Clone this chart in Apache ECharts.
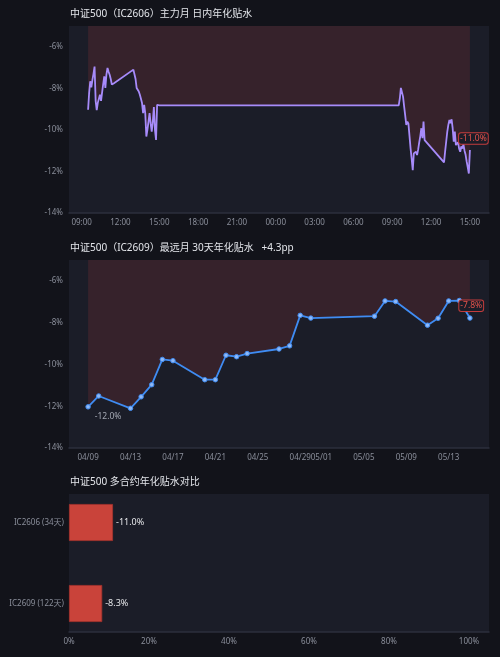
<!DOCTYPE html>
<html><head><meta charset="utf-8">
<script src="https://cdn.jsdelivr.net/npm/echarts@6/dist/echarts.min.js"></script>
<style>html,body{margin:0;padding:0;background:#12131a;}#c{width:500px;height:657px;}</style>
</head><body><div id="c"></div>
<script>
// ---------- data ----------
const titleTop = '中证500（IC2606）主力月 日内年化贴水';
const titleMid = '中证500（IC2609）最远月 30天年化贴水   +4.3pp';
const titleBar = '中证500 多合约年化贴水对比';

const day1 = '2026-05-14';
const day2 = '2026-05-15';
const amStart = '09:30';
const pmStart = '13:00';
const stepMinutes = 5;

const day1AmValues = [-9.03,-8.2,-7.66,-7.95,-7.6,-7.3,-6.95,-8.6,-9.05,-8.7,-8.79,-8.31,-8.6,-8.2,-7.8,-7.42,-7.98,-7.34,-7.02,-7.2,-7.35,-7.55,-7.82,-7.79,-7.75];
const day1PmValues = [-7.1,-7.15,-7.55,-7.98,-8.05,-8.15,-8.31,-8.5,-8.71,-9.19,-8.79,-9.2,-10.32,-10.0,-9.6,-9.19,-9.7,-10.08,-9.6,-8.9,-10.0,-10.48,-8.79,-8.8,-8.82];
const day2AmValues = [-8.82,-8.5,-7.98,-8.0,-8.4,-8.87,-9.3,-9.76,-9.6,-9.7,-10.3,-10.9,-11.4,-11.94,-11.13,-11.2,-11.05,-11.21,-10.95,-10.6,-10.3,-9.92,-10.4,-9.6,-10.49];
const day2PmValues = [-11.56,-11.05,-10.57,-10.1,-9.76,-9.52,-9.68,-9.49,-9.92,-10.57,-10.08,-10.73,-10.81,-10.6,-10.9,-11.05,-10.8,-10.9,-10.7,-11.0,-11.2,-11.53,-11.8,-12.1,-10.97];

const farDates = ['2026-04-09','2026-04-10','2026-04-13','2026-04-14','2026-04-15','2026-04-16','2026-04-17','2026-04-20','2026-04-21','2026-04-22','2026-04-23','2026-04-24','2026-04-27','2026-04-28','2026-04-29','2026-04-30','2026-05-06','2026-05-07','2026-05-08','2026-05-11','2026-05-12','2026-05-13','2026-05-14','2026-05-15'];
const farValues = [-12.03,-11.51,-12.1,-11.55,-10.97,-9.76,-9.82,-10.73,-10.73,-9.56,-9.63,-9.48,-9.26,-9.11,-7.65,-7.78,-7.69,-6.96,-6.99,-8.12,-7.79,-6.96,-6.94,-7.78];

const contracts = ['IC2606 (34天)', 'IC2609 (122天)'];
const contractDiscounts = [-11.0, -8.3];

const yMin = -14, yMax = -5, yStep = 2;
const barMax = 105, barStep = 20;
const intradayTickHours = 3;

// ---------- build ----------
function session(date, start, values) {
  const t0 = new Date(date + 'T' + start + ':00').getTime();
  return values.map((v, i) => [t0 + i * stepMinutes * 60000, v]);
}
const intraday = [].concat(
  session(day1, amStart, day1AmValues),
  session(day1, pmStart, day1PmValues),
  session(day2, amStart, day2AmValues),
  session(day2, pmStart, day2PmValues)
);
const far = farDates.map((d, i) => [new Date(d + 'T00:00:00').getTime(), farValues[i]]);

// padded extents (5% each side) for the intraday axis, and its 3-hour label positions
const iT0 = intraday[0][0], iT1 = intraday[intraday.length - 1][0];
const iMin = iT0 - (iT1 - iT0) * 0.05, iMax = iT1 + (iT1 - iT0) * 0.05;
const hourTicks = [];
{
  const d = new Date(iMin);
  d.setMinutes(0, 0, 0);
  while (d.getTime() < iMin || d.getHours() % intradayTickHours !== 0) d.setHours(d.getHours() + 1);
  while (d.getTime() <= iMax) { hourTicks.push(d.getTime()); d.setHours(d.getHours() + intradayTickHours); }
}
const hhmm = v => { const d = new Date(v); return String(d.getHours()).padStart(2, '0') + ':' + String(d.getMinutes()).padStart(2, '0'); };

const FONT = "'Noto Sans', 'Noto Sans CJK SC', sans-serif";
const GRAY = '#8a8e9a';
const TITLE = '#e3e5ea';
const PLOT_BG = '#1b1d28';
const AREA = 'rgba(239,68,68,0.13)';
const AXIS_LINE = '#2c2f3d';
const RED_TXT = '#e5534b';

const padMin = v => v.min - (v.max - v.min) * 0.05;
const padMax = v => v.max + (v.max - v.min) * 0.05;

function pctYAxis(grid) {
  return {
    type: 'value', gridIndex: grid, min: yMin, max: yMax, interval: yStep,
    axisLine: {show: false}, axisTick: {show: false}, splitLine: {show: false},
    axisLabel: {color: GRAY, fontSize: 8, fontFamily: FONT, margin: 6, showMaxLabel: false,
      formatter: v => v + '%'}
  };
}
const axisLineStyle = {show: true, lineStyle: {color: AXIS_LINE, width: 1.5}};
const xLabel = {color: GRAY, fontSize: 8, fontFamily: FONT, margin: 6, hideOverlap: false};

const lastI = intraday[intraday.length - 1];
const firstF = far[0], lastF = far[far.length - 1];

const boxLabel = {
  show: true, position: 'inside', color: RED_TXT, fontSize: 8.5, fontFamily: FONT,
  backgroundColor: PLOT_BG, borderColor: '#c43c3c', borderWidth: 1, borderRadius: 2, padding: [1, 1]
};
const titleStyle = {fontSize: 10, color: TITLE, fontWeight: 'normal', fontFamily: FONT};

const option = {
  backgroundColor: '#12131a',
  animation: false,
  textStyle: {fontFamily: FONT},
  title: [
    {text: titleTop, left: 70, top: 9, padding: 0, textStyle: titleStyle},
    {text: titleMid, left: 70, top: 243, padding: 0, textStyle: titleStyle},
    {text: titleBar, left: 70, top: 477, padding: 0, textStyle: titleStyle}
  ],
  grid: [
    {left: 69, right: 11, top: 26, height: 187, show: true, backgroundColor: PLOT_BG, borderWidth: 0},
    {left: 69, right: 11, top: 260, height: 188, show: true, backgroundColor: PLOT_BG, borderWidth: 0},
    {left: 69, right: 11, top: 494, height: 138, show: true, backgroundColor: PLOT_BG, borderWidth: 0},
    {left: 69, right: 11, top: 482, height: 162, show: false}
  ],
  xAxis: [
    {type: 'value', gridIndex: 0, min: iMin, max: iMax, scale: true,
      axisLine: axisLineStyle, axisTick: {show: false}, splitLine: {show: false},
      axisLabel: Object.assign({}, xLabel, {customValues: hourTicks, formatter: v => hhmm(v)})},
    {type: 'time', gridIndex: 1, min: padMin, max: padMax, splitNumber: 10,
      axisLine: axisLineStyle, axisTick: {show: false}, splitLine: {show: false},
      axisLabel: Object.assign({}, xLabel, {formatter: '{MM}/{dd}'})},
    {type: 'value', gridIndex: 2, min: 0, max: barMax, interval: barStep,
      axisLine: axisLineStyle, axisTick: {show: false}, splitLine: {show: false},
      axisLabel: Object.assign({}, xLabel, {showMaxLabel: false, formatter: v => v + '%'})},
    {type: 'value', gridIndex: 3, min: 0, max: barMax, show: false}
  ],
  yAxis: [
    pctYAxis(0),
    pctYAxis(1),
    {type: 'value', gridIndex: 2, show: false},
    {type: 'category', gridIndex: 3, data: contracts, inverse: true,
      axisLine: {show: false}, axisTick: {show: false}, splitLine: {show: false},
      axisLabel: {color: GRAY, fontSize: 8, fontFamily: FONT, margin: 5}}
  ],
  series: [
    {
      type: 'line', xAxisIndex: 0, yAxisIndex: 0, data: intraday, showSymbol: false, symbol: 'none',
      lineStyle: {color: '#a78bfa', width: 1.8},
      areaStyle: {origin: 'end', color: AREA, opacity: 1},
      markPoint: {
        symbol: 'circle', symbolSize: 1, itemStyle: {color: 'rgba(0,0,0,0)'}, silent: true,
        label: Object.assign({}, boxLabel, {offset: [3.5, -11.6], formatter: lastI[1].toFixed(1) + '%'}),
        data: [{coord: lastI}]
      }
    },
    {
      type: 'line', xAxisIndex: 1, yAxisIndex: 1, data: far, showSymbol: true, symbol: 'circle', symbolSize: 4.5,
      lineStyle: {color: '#3f8cf3', width: 1.8},
      itemStyle: {color: '#8fb8f5', borderColor: '#3f8cf3', borderWidth: 1},
      areaStyle: {origin: 'end', color: AREA, opacity: 1},
      markPoint: {
        symbol: 'circle', symbolSize: 1, itemStyle: {color: 'rgba(0,0,0,0)'}, silent: true,
        data: [
          {coord: firstF, label: {show: true, position: 'inside', offset: [20, 9.3], color: '#a3a7b2', fontSize: 8.5, fontFamily: FONT,
            formatter: firstF[1].toFixed(1) + '%'}},
          {coord: lastF, label: Object.assign({}, boxLabel, {offset: [1.3, -12.3], formatter: lastF[1].toFixed(1) + '%'})}
        ]
      }
    },
    {
      type: 'bar', xAxisIndex: 3, yAxisIndex: 3, data: contractDiscounts.map(v => Math.abs(v)), barWidth: 37,
      itemStyle: {color: '#c9433a', borderColor: '#a8342d', borderWidth: 0.8},
      label: {show: true, position: 'right', distance: 3, color: '#e6e7ea', fontSize: 9, fontFamily: FONT,
        formatter: p => contractDiscounts[p.dataIndex].toFixed(1) + '%'}
    }
  ]
};

const chart = echarts.init(document.getElementById('c'));
chart.setOption(option);
</script>
</body></html>
